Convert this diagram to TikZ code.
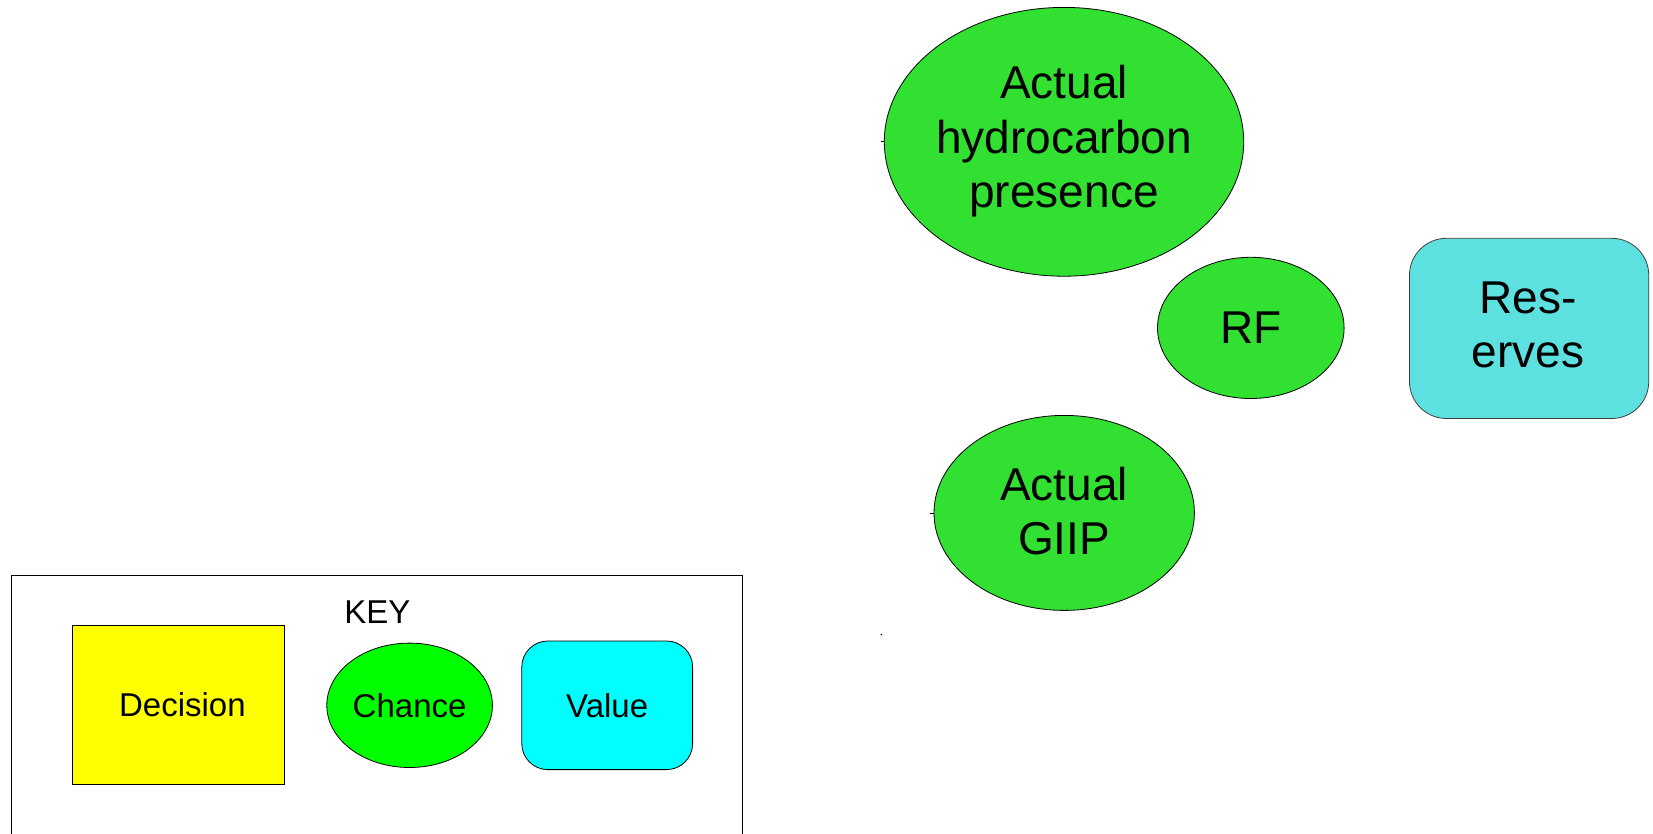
\documentclass[tikz,border=0pt]{standalone}
\usepackage{fontspec}
\setmainfont{Liberation Sans}
\usetikzlibrary{shapes.geometric}
\definecolor{chg}{RGB}{50,224,50}
\definecolor{resc}{RGB}{92,224,224}
\definecolor{keygreen}{RGB}{0,255,0}
\definecolor{keycyan}{RGB}{0,255,255}
\definecolor{keyyellow}{RGB}{255,255,0}
\tikzset{
 chancenode/.style={ellipse, draw=black, line width=0.8pt, fill=chg, inner sep=0pt},
 valnode/.style={rectangle, rounded corners=37pt, draw=black!75, line width=0.8pt, fill=resc, inner sep=0pt},
 bigtext/.style={font=\fontsize{46}{54.5}\selectfont, align=center, text=black, inner sep=0pt},
 keytext/.style={font=\fontsize{33}{38}\selectfont, text=black, inner sep=0pt},
 stub/.style={draw=black, line width=0.8pt},
}
\begin{document}
\begin{tikzpicture}[x=1pt,y=-1pt]
\clip (0,0) rectangle (1653,834);
\fill[white] (0,0) rectangle (1653,834);
% main diagram
\node[chancenode, minimum width=359.4pt, minimum height=268.8pt] (hc) at (1064,141.8) {};
\node[bigtext] (hct) at (1064,141.5) {Actual\\hydrocarbon\\presence};
\node[chancenode, minimum width=186.6pt, minimum height=141.2pt] (rf) at (1250.8,327.9) {};
\node[bigtext] (rft) at (rf.center) {RF};
\node[valnode, minimum width=239.3pt, minimum height=180.2pt] (res) at (1529.1,328.4) {};
\node[bigtext] (rest) at (1528,325) {Res-\\erves};
\node[chancenode, minimum width=260.4pt, minimum height=195pt] (giip) at (1064.2,512.9) {};
\node[bigtext] (giipt) at (1064.2,511) {Actual\\GIIP};
% stubs
\coordinate (s1) at (880.5,141.8);
\draw[stub] (s1) -- (hc.west);
\coordinate (s2) at (929.8,512.9);
\draw[stub] (s2) -- (giip.west);
\coordinate (dot) at (881.3,634.6);
\fill[black] (dot) circle (0.8);
% key
\node[draw=black, line width=0.8pt, rectangle, minimum width=731.7pt, minimum height=300pt, inner sep=0pt, anchor=north west] (keybox) at (10.5,574.5) {};
\node[keytext] (keyt) at (377.4,612.5) {KEY};
\node[rectangle, draw=black, line width=0.8pt, fill=keyyellow, minimum width=211.9pt, minimum height=159.2pt, inner sep=0pt] (dec) at (178.6,704.7) {};
\node[keytext] (dect) at (182.4,704.7) {Decision};
\node[ellipse, draw=black, line width=0.8pt, fill=keygreen, minimum width=165.6pt, minimum height=124.4pt, inner sep=0pt] (chn) at (409.6,705.3) {};
\node[keytext] (chnt) at (chn.center) {Chance};
\node[rectangle, rounded corners=26pt, draw=black, line width=0.8pt, fill=keycyan, minimum width=170.8pt, minimum height=128.6pt, inner sep=0pt] (val) at (607.2,705.3) {};
\node[keytext] (valt) at (val.center) {Value};
\end{tikzpicture}
\end{document}
